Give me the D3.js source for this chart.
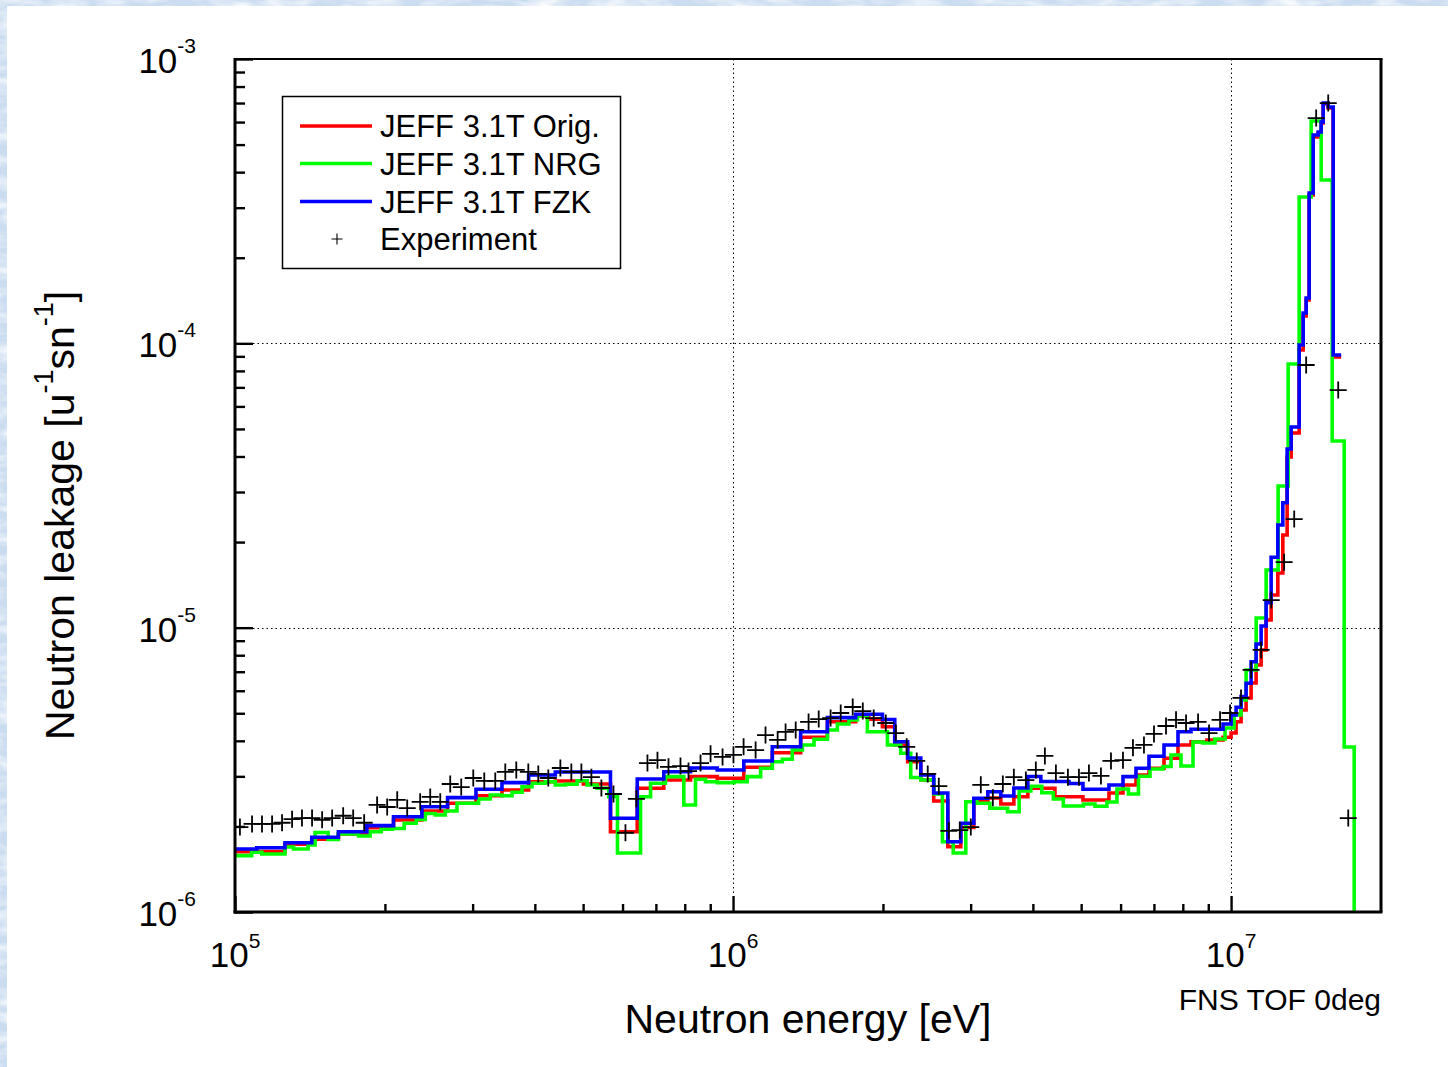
<!DOCTYPE html>
<html><head><meta charset="utf-8">
<script src="https://cdn.jsdelivr.net/npm/d3@7"></script>
<style>
body{margin:0;background:#fff}
svg{display:block}
text{font-family:"Liberation Sans",Arial,Helvetica,sans-serif;fill:#000}
</style>
</head><body>
<svg id="chart" width="1448" height="1067"></svg>
<script>
// ---------- DATA ----------
// bin edges (eV) shared by "Orig." and "FZK" histograms
const calcEdges = [1.000e5,1.106e5,1.260e5,1.426e5,1.613e5,1.840e5,2.081e5,2.373e5,2.672e5,3.047e5,3.436e5,3.887e5,4.397e5,5.006e5,
 5.674e5,6.422e5,7.260e5,8.215e5,9.296e5,
 1.051e6,1.199e6,1.367e6,1.547e6,1.763e6,1.873e6,1.995e6,2.112e6,2.242e6,2.382e6,2.529e6,2.699e6,2.866e6,3.044e6,3.248e6,3.449e6,3.663e6,3.908e6,4.150e6,4.429e6,4.726e6,5.042e6,5.355e6,5.686e6,6.067e6,6.443e6,6.842e6,7.334e6,7.824e6,8.309e6,8.945e6,9.636e6,
 1.000e7,1.0234e7,1.0474e7,1.0719e7,1.0970e7,1.1227e7,1.1490e7,1.1759e7,1.2034e7,1.2413e7,1.2703e7,1.2959e7,1.3201e7,1.3699e7,1.3955e7,1.4150e7,1.4348e7,1.4616e7,1.4958e7,1.5167e7,1.5308e7,1.5666e7,1.6033e7,1.6635e7];

const origValues = [1.630e-6,1.630e-6,1.730e-6,1.802e-6,1.881e-6,1.980e-6,2.107e-6,2.266e-6,2.412e-6,2.565e-6,2.686e-6,2.873e-6,2.889e-6,2.820e-6,
 1.916e-6,2.723e-6,2.913e-6,2.992e-6,2.953e-6,3.228e-6,3.633e-6,4.115e-6,4.669e-6,4.892e-6,4.763e-6,4.484e-6,3.867e-6,3.378e-6,2.913e-6,2.457e-6,
 1.697e-6,1.983e-6,2.457e-6,2.517e-6,2.399e-6,2.544e-6,2.723e-6,2.723e-6,2.544e-6,2.544e-6,2.477e-6,2.477e-6,2.621e-6,2.797e-6,3.033e-6,3.202e-6,
 3.472e-6,3.867e-6,3.972e-6,4.027e-6,4.115e-6,4.261e-6,4.669e-6,5.134e-6,5.659e-6,6.392e-6,7.391e-6,8.346e-6,1.064e-5,1.303e-5,1.557e-5,2.118e-5,
 3.983e-5,4.838e-5,9.475e-5,1.248e-4,1.421e-4,3.325e-4,5.317e-4,5.492e-4,5.956e-4,6.947e-4,6.725e-4,8.952e-5];

const fzkValues = [1.666e-6,1.683e-6,1.752e-6,1.832e-6,1.916e-6,2.012e-6,2.164e-6,2.346e-6,2.524e-6,2.701e-6,2.850e-6,3.033e-6,3.107e-6,3.107e-6,
 2.136e-6,2.936e-6,3.115e-6,3.209e-6,3.158e-6,3.397e-6,3.814e-6,4.306e-6,4.825e-6,4.960e-6,4.960e-6,4.755e-6,3.972e-6,3.480e-6,3.033e-6,2.621e-6,
 1.767e-6,2.051e-6,2.511e-6,2.649e-6,2.559e-6,2.730e-6,2.996e-6,2.878e-6,2.878e-6,2.831e-6,2.701e-6,2.701e-6,2.797e-6,2.992e-6,3.202e-6,3.528e-6,
 3.867e-6,4.306e-6,4.391e-6,4.391e-6,4.583e-6,4.932e-6,5.248e-6,5.719e-6,6.376e-6,7.591e-6,8.763e-6,1.014e-5,1.224e-5,1.769e-5,2.296e-5,2.751e-5,
 4.250e-5,5.079e-5,9.866e-5,1.279e-4,1.444e-4,3.379e-4,5.403e-4,5.536e-4,6.004e-4,7.003e-4,6.780e-4,9.099e-5];

// bin edges (eV) of the "NRG" histogram
const nrgEdges = [1.000e5,1.080e5,1.132e5,1.260e5,1.311e5,1.402e5,1.448e5,1.538e5,1.611e5,1.771e5,1.868e5,1.966e5,2.068e5,2.186e5,2.311e5,2.410e5,
 2.524e5,2.644e5,2.791e5,3.084e5,3.255e5,3.436e5,3.599e5,3.770e5,3.948e5,4.199e5,4.397e5,4.606e5,4.864e5,5.094e5,5.335e5,5.629e5,5.861e5,
 6.520e5,6.829e5,7.318e5,7.965e5,8.407e5,8.806e5,9.296e5,1.004e6,1.068e6,1.136e6,1.199e6,1.256e6,1.315e6,1.378e6,1.454e6,1.547e6,1.620e6,
 1.709e6,1.777e6,1.861e6,2.042e6,2.171e6,2.274e6,2.382e6,2.533e6,2.633e6,2.768e6,2.933e6,3.086e6,3.278e6,3.558e6,3.754e6,3.962e6,4.169e6,
 4.397e6,4.605e6,5.053e6,5.330e6,5.633e6,5.900e6,6.222e6,6.517e6,6.874e6,7.300e6,7.575e6,7.933e6,8.386e6,8.781e6,9.283e6,9.726e6,
 1.014e7,1.047e7,1.072e7,1.123e7,1.176e7,1.243e7,1.302e7,1.370e7,1.448e7,1.517e7,1.596e7,1.687e7,1.767e7,2.000e7];

// last NRG bin lies below the bottom of the axis (1e-6)
const nrgValues = [1.578e-6,1.622e-6,1.600e-6,1.693e-6,1.666e-6,1.720e-6,1.904e-6,1.799e-6,1.881e-6,1.851e-6,1.916e-6,1.954e-6,1.967e-6,2.051e-6,
 2.115e-6,2.220e-6,2.194e-6,2.266e-6,2.412e-6,2.497e-6,2.579e-6,2.565e-6,2.637e-6,2.759e-6,2.836e-6,2.873e-6,2.797e-6,2.813e-6,2.896e-6,2.797e-6,
 2.723e-6,2.544e-6,1.613e-6,2.544e-6,2.836e-6,2.992e-6,2.379e-6,2.929e-6,2.873e-6,2.850e-6,2.873e-6,2.992e-6,3.202e-6,3.378e-6,3.444e-6,3.713e-6,
 3.867e-6,4.050e-6,4.366e-6,4.583e-6,4.736e-6,4.892e-6,4.306e-6,3.867e-6,3.615e-6,2.972e-6,2.913e-6,2.600e-6,1.767e-6,1.613e-6,2.443e-6,2.412e-6,
 2.316e-6,2.253e-6,2.664e-6,2.768e-6,2.628e-6,2.497e-6,2.360e-6,2.399e-6,2.354e-6,2.437e-6,2.708e-6,2.600e-6,3.001e-6,3.184e-6,3.249e-6,3.566e-6,
 3.262e-6,3.962e-6,3.930e-6,4.060e-6,4.437e-6,4.932e-6,5.568e-6,7.098e-6,1.081e-5,1.595e-5,3.150e-5,8.460e-5,3.271e-4,6.053e-4,3.754e-4,4.535e-5,
 3.805e-6,5.0e-7];

const expEnergy = [1.023e5,1.082e5,1.133e5,1.187e5,1.243e5,1.302e5,1.363e5,1.428e5,1.496e5,1.567e5,1.649e5,1.727e5,1.817e5,
 1.929e5,2.021e5,2.117e5,2.217e5,2.354e5,2.466e5,2.583e5,2.705e5,2.846e5,
 3.009e5,3.166e5,3.331e5,3.489e5,3.671e5,3.881e5,4.064e5,4.257e5,4.501e5,4.735e5,4.960e5,5.195e5,5.441e5,5.753e5,6.081e5,6.398e5,6.732e5,7.051e5,7.420e5,7.843e5,8.139e5,8.604e5,9.013e5,9.527e5,
 1.002e6,1.050e6,1.110e6,1.162e6,1.229e6,1.275e6,1.336e6,1.418e6,1.486e6,1.570e6,1.645e6,1.739e6,1.822e6,1.916e6,
 2.026e6,2.122e6,2.232e6,2.338e6,2.460e6,2.589e6,2.712e6,2.853e6,3.002e6,3.144e6,3.324e6,3.481e6,3.663e6,3.872e6,
 4.055e6,4.228e6,4.449e6,4.703e6,4.949e6,5.183e6,5.479e6,5.739e6,6.067e6,6.353e6,6.685e6,7.002e6,7.402e6,7.753e6,8.120e6,8.585e6,9.031e6,9.504e6,9.954e6,
 1.047e7,1.097e7,1.149e7,1.204e7,1.278e7,1.339e7,1.415e7,1.482e7,1.567e7,1.641e7,1.719e7];

const expValues = [1.99e-6,2.04e-6,2.04e-6,2.04e-6,2.06e-6,2.12e-6,2.14e-6,2.14e-6,2.11e-6,2.14e-6,2.18e-6,2.14e-6,2.06e-6,
 2.38e-6,2.34e-6,2.48e-6,2.32e-6,2.44e-6,2.54e-6,2.44e-6,2.82e-6,2.75e-6,
 2.96e-6,2.89e-6,2.89e-6,3.11e-6,3.16e-6,3.11e-6,3.06e-6,2.96e-6,3.21e-6,3.11e-6,3.11e-6,2.98e-6,2.73e-6,2.60e-6,1.90e-6,2.50e-6,3.34e-6,3.42e-6,3.24e-6,3.26e-6,3.13e-6,3.34e-6,3.60e-6,3.51e-6,
 3.57e-6,3.81e-6,3.71e-6,4.19e-6,4.03e-6,4.30e-6,4.37e-6,4.66e-6,4.77e-6,4.81e-6,5.01e-6,5.26e-6,5.09e-6,4.81e-6,
 4.62e-6,4.26e-6,3.81e-6,3.40e-6,3.06e-6,2.77e-6,1.93e-6,1.94e-6,1.99e-6,2.80e-6,2.52e-6,2.82e-6,2.98e-6,2.91e-6,
 3.16e-6,3.54e-6,3.08e-6,2.98e-6,2.98e-6,3.08e-6,3.01e-6,3.40e-6,3.42e-6,3.78e-6,3.87e-6,4.23e-6,4.51e-6,4.74e-6,4.62e-6,4.66e-6,4.26e-6,4.74e-6,5.01e-6,
 5.66e-6,7.10e-6,8.35e-6,1.25e-5,1.70e-5,2.41e-5,8.39e-5,6.20e-4,7.00e-4,6.85e-5,2.14e-6];

const seriesNames = ["JEFF 3.1T Orig.","JEFF 3.1T NRG","JEFF 3.1T FZK","Experiment"];
const seriesColors = ["#ff0000","#00ff00","#0000ff","#000000"];
const xMajorTicks = [1e5,1e6,1e7];
const xTickExponents = ["5","6","7"];
const yMajorTicks = [1e-6,1e-5,1e-4,1e-3];
const yTickExponents = ["-6","-5","-4","-3"];
const xTitle = "Neutron energy [eV]";
const cornerLabel = "FNS TOF 0deg";

// ---------- LAYOUT ----------
const L=235, R=1381, T=59, B=912;
const svg = d3.select("#chart");

// background: textured light blue strips + white panel
const defs = svg.append("defs");
const f = defs.append("filter").attr("id","tex").attr("x",0).attr("y",0).attr("width","100%").attr("height","100%");
f.append("feTurbulence").attr("type","fractalNoise").attr("baseFrequency","0.03 0.09").attr("numOctaves",3).attr("seed",7);
f.append("feColorMatrix").attr("values","0 0 0 0 1  0 0 0 0 1  0 0 0 0 1  1.8 0 0 0 -0.7");
svg.append("rect").attr("width",1448).attr("height",1067).attr("fill","#cadcf0");
svg.append("rect").attr("width",1448).attr("height",1067).attr("filter","url(#tex)");
svg.append("rect").attr("x",7).attr("y",6).attr("width",1441).attr("height",1061).attr("fill","#fff");

defs.append("clipPath").attr("id","plotclip").append("rect")
  .attr("x",L).attr("y",T).attr("width",R-L).attr("height",B-T);

const x = d3.scaleLog().domain([1e5,2e7]).range([L,R]);
const y = d3.scaleLog().domain([1e-6,1e-3]).range([B,T]);

// grid (dotted) at major decades
const grid = svg.append("g").attr("stroke","#000").attr("stroke-width",1).attr("stroke-dasharray","1.5,3");
grid.selectAll("line.gx").data(xMajorTicks.slice(1)).join("line")
  .attr("x1",d=>Math.round(x(d))+0.5).attr("x2",d=>Math.round(x(d))+0.5).attr("y1",T).attr("y2",B);
grid.selectAll("line.gy").data(yMajorTicks.slice(1,3)).join("line")
  .attr("y1",d=>Math.round(y(d))+0.5).attr("y2",d=>Math.round(y(d))+0.5).attr("x1",L).attr("x2",R);

// histograms
function stepPoints(edges, vals){
  const pts = vals.map((v,i)=>[edges[i], v]);
  pts.push([edges[vals.length], vals[vals.length-1]]);
  return pts;
}
const line = d3.line().x(d=>x(d[0])).y(d=>y(d[1])).curve(d3.curveStepAfter);
const plot = svg.append("g").attr("clip-path","url(#plotclip)");
const hists = [
  {edges:calcEdges, vals:origValues, color:seriesColors[0]},
  {edges:nrgEdges, vals:nrgValues, color:seriesColors[1]},
  {edges:calcEdges, vals:fzkValues, color:seriesColors[2]}
];
hists.forEach(h=>{
  plot.append("path").attr("d", line(stepPoints(h.edges,h.vals)))
    .attr("fill","none").attr("stroke",h.color).attr("stroke-width",3.6)
    .attr("stroke-linejoin","miter").attr("stroke-linecap","butt");
});

// experiment crosses
const expData = expEnergy.map((e,i)=>[e, expValues[i]]);
plot.selectAll("path.exp").data(expData).join("path")
  .attr("transform",d=>`translate(${x(d[0])},${y(d[1])})`)
  .attr("d","M-8.5,0H8.5M0,-8.5V8.5").attr("stroke","#000").attr("stroke-width",1.8).attr("fill","none");

// axes (ticks inside)
function minorTicks(lo,hi){ const t=[]; for(let p=lo;p<hi;p++) for(let k=2;k<=9;k++) t.push(k*Math.pow(10,p)); return t; }
const xMinor = minorTicks(5,7);
const yMinor = minorTicks(-6,-3);
function styleAxis(g){ g.select(".domain").remove(); g.selectAll(".tick line").attr("stroke","#000").attr("stroke-width",2.4); g.selectAll(".tick text").remove(); }
svg.append("g").attr("transform",`translate(0,${B})`).call(d3.axisBottom(x).tickValues(xMinor).tickSize(-8).tickSizeOuter(0)).call(styleAxis);
svg.append("g").attr("transform",`translate(0,${B})`).call(d3.axisBottom(x).tickValues(xMajorTicks).tickSize(-16).tickSizeOuter(0)).call(styleAxis);
svg.append("g").attr("transform",`translate(${L},0)`).call(d3.axisLeft(y).tickValues(yMinor).tickSize(-10).tickSizeOuter(0)).call(styleAxis);
svg.append("g").attr("transform",`translate(${L},0)`).call(d3.axisLeft(y).tickValues(yMajorTicks).tickSize(-18).tickSizeOuter(0)).call(styleAxis);

// frame
const frame = svg.append("g").attr("stroke","#000").attr("fill","none");
frame.append("line").attr("x1",L).attr("x2",R+1.5).attr("y1",T).attr("y2",T).attr("stroke-width",2);
frame.append("line").attr("x1",R).attr("x2",R).attr("y1",T).attr("y2",B).attr("stroke-width",3);
frame.append("line").attr("x1",L-1.5).attr("x2",R+1.5).attr("y1",B).attr("y2",B).attr("stroke-width",3);
frame.append("line").attr("x1",L).attr("x2",L).attr("y1",T-1).attr("y2",B+1.5).attr("stroke-width",3);

// tick labels
const xl = svg.append("g");
xMajorTicks.forEach((v,i)=>{
  const t = xl.append("text").attr("x",x(v)).attr("y",B+55).attr("text-anchor","middle").attr("font-size",35);
  t.append("tspan").text("10");
  t.append("tspan").attr("dy",-19).attr("font-size",21).text(xTickExponents[i]);
});
yMajorTicks.forEach((v,i)=>{
  const t = xl.append("text").attr("x",196).attr("y",y(v)+14).attr("text-anchor","end").attr("font-size",35);
  t.append("tspan").text("10");
  t.append("tspan").attr("dy",-20).attr("font-size",21).text(yTickExponents[i]);
});

// axis titles
svg.append("text").attr("x",(L+R)/2).attr("y",1033).attr("text-anchor","middle").attr("font-size",41).text(xTitle);
const yt = svg.append("text").attr("transform","translate(74,740) rotate(-90)").attr("font-size",41);
yt.append("tspan").text("Neutron leakage [u");
yt.append("tspan").attr("dy",-21).attr("font-size",27).text("-1");
yt.append("tspan").attr("dy",21).text("sn");
yt.append("tspan").attr("dy",-21).attr("font-size",27).text("-1");
yt.append("tspan").attr("dy",21).text("]");

svg.append("text").attr("x",R).attr("y",1010).attr("text-anchor","end").attr("font-size",30).text(cornerLabel);

// legend
const lg = svg.append("g");
lg.append("rect").attr("x",282.5).attr("y",96.5).attr("width",338).attr("height",172)
  .attr("fill","#fff").attr("stroke","#000").attr("stroke-width",1.5);
const rowY = [126,163.5,201.5,239];
seriesNames.forEach((name,i)=>{
  if(i<3){
    lg.append("line").attr("x1",300).attr("x2",372).attr("y1",rowY[i]).attr("y2",rowY[i])
      .attr("stroke",seriesColors[i]).attr("stroke-width",3.6);
  } else {
    lg.append("path").attr("transform",`translate(337,${rowY[i]})`).attr("d","M-5.5,0H5.5M0,-5.5V5.5")
      .attr("stroke","#000").attr("stroke-width",1.1).attr("fill","none");
  }
  lg.append("text").attr("x",380).attr("y",rowY[i]+11).attr("font-size",31).text(name);
});
</script>
</body></html>
